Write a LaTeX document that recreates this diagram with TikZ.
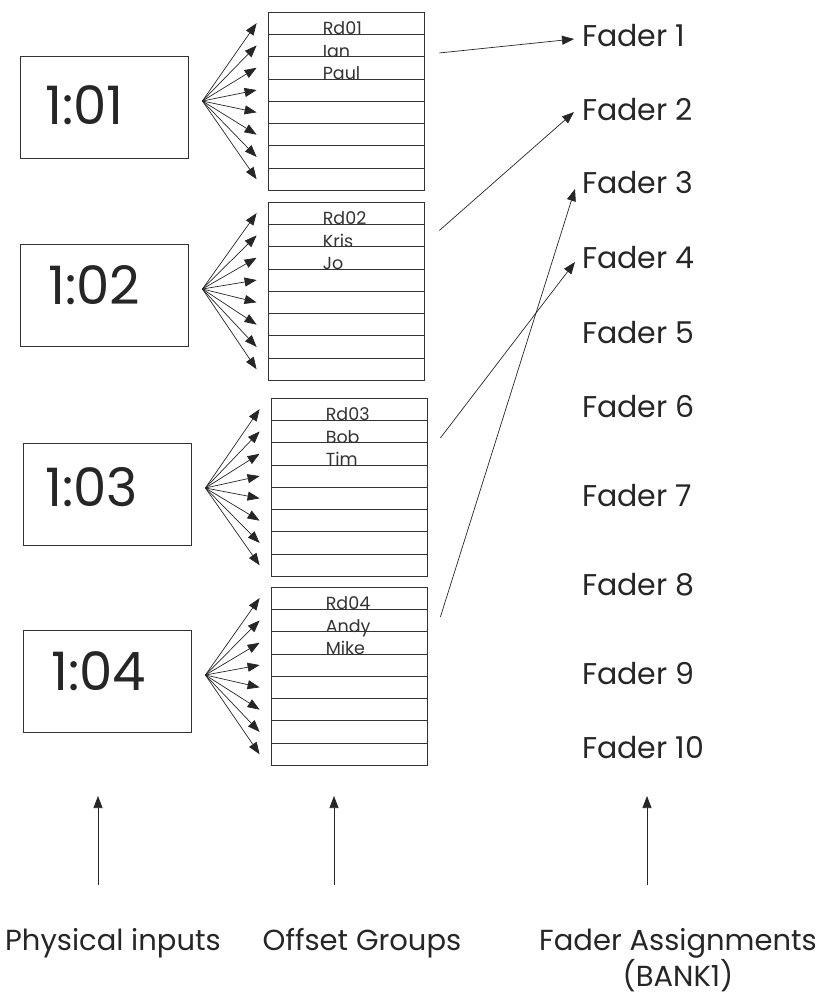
\documentclass[tikz,border=0pt]{standalone}
\usepackage{fontspec}
\setmainfont{Poppins}
\usetikzlibrary{arrows.meta,positioning,calc}

\begin{document}
\begin{tikzpicture}[
    x=1pt, y=-1pt,
    >={Triangle[length=12pt,width=9pt]},
    inbox/.style={rectangle, draw=black!80, line width=0.8pt, minimum width=168pt, minimum height=102pt},
    slot/.style={rectangle, draw=black!80, line width=0.8pt, minimum width=156pt, minimum height=22.3pt, inner sep=0pt},
    clock/.style={font=\fontsize{53}{53}\selectfont, text=black!85, inner sep=0pt, anchor=west},
    member/.style={font=\fontsize{17.5}{17.5}\selectfont, text=black!80, inner sep=0pt, anchor=base west},
    fader/.style={font=\fontsize{30}{30}\selectfont, text=black!85, inner sep=0pt, anchor=base west},
    caption/.style={font=\fontsize{29}{30}\selectfont, text=black!85, inner sep=0pt, align=center, anchor=north},
    link/.style={->, line width=0.7pt, draw=black!85}
  ]
    \useasboundingbox (0,0) rectangle (823,997);

    % Physical inputs
    \node[inbox] (in1) at (104,107) {};
    \node[inbox] (in2) at (104,295) {};
    \node[inbox] (in3) at (107,494) {};
    \node[inbox] (in4) at (107,681) {};
    \node[clock] (t1) at (45,105) {1:01};
    \node[clock] (t2) at (48,285) {1:02};
    \node[clock] (t3) at (45,487) {1:03};
    \node[clock] (t4) at (51,671) {1:04};

    % Offset groups (8 slots each)
    \foreach \g/\x/\y in {1/268/12, 2/268/202, 3/271/398, 4/271/587}
      \foreach \r in {1,...,8}
        \node[slot] (g\g r\r) at (\x+78, \y+\r*22.3-11.15) {};

    \node[member] (m1a) at ($(g1r1.south west)+(55,0)$) {Rd01};
    \node[member] (m1b) at ($(g1r2.south west)+(55,0)$) {Ian};
    \node[member] (m1c) at ($(g1r3.south west)+(55,0)$) {Paul};
    \node[member] (m2a) at ($(g2r1.south west)+(55,0)$) {Rd02};
    \node[member] (m2b) at ($(g2r2.south west)+(55,0)$) {Kris};
    \node[member] (m2c) at ($(g2r3.south west)+(55,0)$) {Jo};
    \node[member] (m3a) at ($(g3r1.south west)+(55,0)$) {Rd03};
    \node[member] (m3b) at ($(g3r2.south west)+(55,0)$) {Bob};
    \node[member] (m3c) at ($(g3r3.south west)+(55,0)$) {Tim};
    \node[member] (m4a) at ($(g4r1.south west)+(55,0)$) {Rd04};
    \node[member] (m4b) at ($(g4r2.south west)+(55,0)$) {Andy};
    \node[member] (m4c) at ($(g4r3.south west)+(55,0)$) {Mike};

    % Fans from inputs to slots
    \foreach \g in {1,...,4} {
      \coordinate (fan\g) at ($(in\g.east)+(14,-6)$);
      \foreach \r in {1,...,8}
        \draw[link] (fan\g) -- ([xshift=-11pt]g\g r\r.west);
    }

    % Fader assignments
    \foreach \i/\y in {1/46, 2/120, 3/193, 4/268, 5/343, 6/417, 7/506, 8/595, 9/684, 10/758}
      \node[fader] (f\i) at (582,\y) {Fader \i};

    \draw[link] ([xshift=15pt,yshift=-7.5pt]g1r2.east) -- ([xshift=-8pt,yshift=7pt]f1.base west);
    \draw[link] ([xshift=15pt,yshift=5pt]g2r2.east) -- ([xshift=-8pt,yshift=8pt]f2.base west);
    \draw[link] ([xshift=13pt,yshift=3.5pt]g4r2.east) -- ([xshift=-7pt,yshift=4pt]f3.base west);
    \draw[link] ([xshift=13pt,yshift=-6.5pt]g3r2.east) -- ([xshift=-7pt,yshift=6pt]f4.base west);

    % Column captions
    \coordinate (pIn) at (98,885);   \coordinate (pInTip) at (98,796);
    \coordinate (pOff) at (334,885); \coordinate (pOffTip) at (334,796);
    \coordinate (pFad) at (647,885); \coordinate (pFadTip) at (647,796);
    \draw[link] (pIn) -- (pInTip);
    \draw[link] (pOff) -- (pOffTip);
    \draw[link] (pFad) -- (pFadTip);

    \node[caption] (capIn) at (113,928) {Physical inputs};
    \node[caption] (capOff) at (362,928) {Offset Groups};
    \node[caption] (capFad) at (678,928) {Fader Assignments\\(BANK1)};
\end{tikzpicture}
\end{document}
